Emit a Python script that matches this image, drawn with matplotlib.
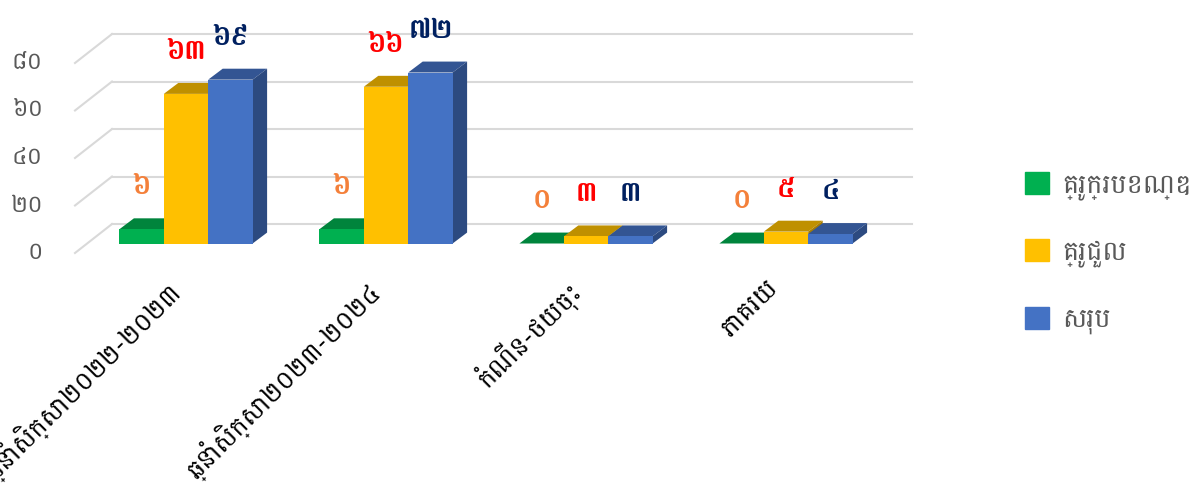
import matplotlib
matplotlib.use('Agg')
import matplotlib.pyplot as plt
from matplotlib.patches import Patch, Polygon
from matplotlib.transforms import ScaledTranslation

categories = ['ឆ្នាំសិក្សា២០២២-២០២៣', 'ឆ្នាំសិក្សា២០២៣-២០២៤', 'កំណើន-ថយចុះ', 'ភាគរយ']
series_names = ['គ្រូក្របខណ្ឌ', 'គ្រូជួល', 'សរុប']
framework = [6, 6, 0, 0]
contract = [63, 66, 3, 5]
total = [69, 72, 3, 4]
y_ticks = [0, 20, 40, 60, 80]

front_colors = ['#00B050', '#FFC000', '#4472C4']
top_colors = ['#00843C', '#BF9000', '#335593']
side_colors = ['#00703A', '#A67C00', '#2C4A80']
label_colors = ['#F4803A', '#FF0000', '#002060']

KHMER_DIGITS = str.maketrans('0123456789', '០១២៣៤៥៦៧៨៩')
FONT = ['Battambang', 'DejaVu Sans']

# depth of the fake 3d box, in data units
FLOOR_X, FLOOR_Y = 0.185, 12.2
BAR_X, BAR_Y = 0.055, 4.0
DEPTH_X, DEPTH_Y = 0.0725, 4.6
WIDTH = 0.222


def khmer(n):
    return str(n).translate(KHMER_DIGITS)


plt.rcParams['font.family'] = FONT
fig = plt.figure(figsize=(11.92, 4.83), dpi=100)
ax = fig.add_axes([75 / 1192, (483 - 253) / 483, 800 / 1192, 190 / 483])
ax.set_xlim(-0.5, 3.5)
ax.set_ylim(0, 80)
for s in ax.spines.values():
    s.set_visible(False)

# walls
for t in y_ticks:
    ax.plot([-0.5, -0.5 + FLOOR_X], [t, t + FLOOR_Y], color='#D9D9D9', lw=1.5, clip_on=False, zorder=1)
    ax.plot([-0.5 + FLOOR_X, 3.5 + FLOOR_X], [t + FLOOR_Y, t + FLOOR_Y], color='#D9D9D9', lw=1.5, clip_on=False, zorder=1)

all_series = [framework, contract, total]
for i, values in enumerate(all_series):
    for j, v in enumerate(values):
        x0 = j + BAR_X + (i - 1.5) * WIDTH
        x1 = x0 + WIDTH
        top = v + BAR_Y
        ax.add_patch(Polygon([(x0, top), (x1, top), (x1 + DEPTH_X, top + DEPTH_Y), (x0 + DEPTH_X, top + DEPTH_Y)],
                             color=top_colors[i], lw=0, clip_on=False, zorder=2 + i))
        ax.add_patch(Polygon([(x1, BAR_Y), (x1 + DEPTH_X, BAR_Y + DEPTH_Y), (x1 + DEPTH_X, top + DEPTH_Y), (x1, top)],
                             color=side_colors[i], lw=0, clip_on=False, zorder=2 + i))
        ax.bar(x0, v, WIDTH, bottom=BAR_Y, align='edge', color=front_colors[i], clip_on=False, zorder=2 + i)
        ax.annotate(khmer(v), (x0 + WIDTH / 2, top), xytext=(0, 42.5 * 0.72), textcoords='offset points',
                    ha='center', va='center', fontsize=20, color=label_colors[i], fontweight='bold', zorder=10)

ax.set_yticks(y_ticks, [khmer(t) for t in y_ticks], color='#595959', fontsize=17)
ax.tick_params(axis='y', length=0, pad=23)
ax.set_xticks(range(len(categories)), categories, rotation=45, ha='right', rotation_mode='anchor', fontsize=18.5, color='black')
ax.tick_params(axis='x', length=0, pad=16)

# nudge tick labels to where the reference has them
for label in ax.get_yticklabels():
    label.set_transform(label.get_transform() + ScaledTranslation(0, 3 / 100, fig.dpi_scale_trans))
for label in ax.get_xticklabels():
    label.set_transform(label.get_transform() + ScaledTranslation(-10 / 100, 0, fig.dpi_scale_trans))

handles = [Patch(color=c) for c in front_colors]
fig.legend(handles, series_names, loc='upper left', bbox_to_anchor=(1000.6 / 1192, 1 - 147 / 483), frameon=False,
           fontsize=19.5, labelcolor='#595959', handlelength=0.887, handleheight=0.887, labelspacing=1.43, handletextpad=0.48)

fig.savefig('out.png', dpi=100)
